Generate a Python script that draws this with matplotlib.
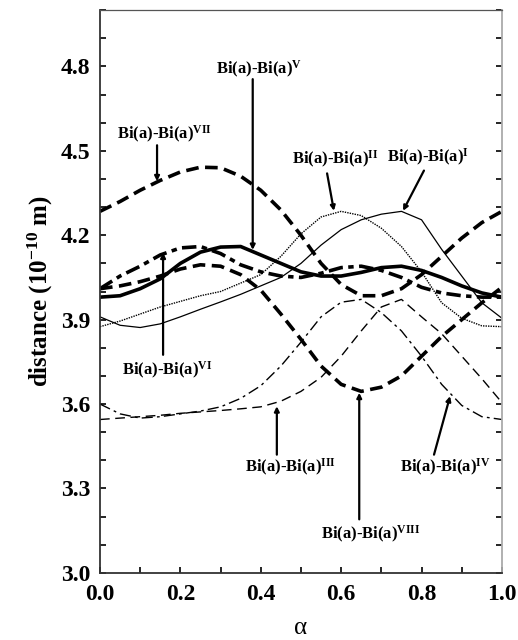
import matplotlib
matplotlib.use("Agg")
import matplotlib.pyplot as plt
import matplotlib.ticker as mticker
import numpy as np

plt.rcParams.update({
    "font.family": "serif",
    "font.serif": ["Liberation Serif", "DejaVu Serif"],
    "mathtext.fontset": "custom",
    "mathtext.rm": "Liberation Serif",
    "mathtext.bf": "Liberation Serif:bold",
    "mathtext.it": "Liberation Serif:italic",
})

# --- Data: Bi(a)-Bi(a) distances (10^-10 m) against alpha ---
alpha = np.round(np.arange(0, 1.0001, 0.05), 2)

d_I = [3.91, 3.88, 3.872, 3.885, 3.91, 3.937, 3.963, 3.99, 4.02, 4.05, 4.10,
       4.165, 4.22, 4.255, 4.275, 4.285, 4.255, 4.15, 4.055, 3.96, 3.905]
d_II = [3.875, 3.895, 3.92, 3.945, 3.965, 3.985, 4.0, 4.03, 4.06, 4.125, 4.205,
        4.265, 4.285, 4.27, 4.225, 4.16, 4.07, 3.96, 3.905, 3.878, 3.875]
d_III = [3.545, 3.55, 3.555, 3.56, 3.567, 3.572, 3.577, 3.583, 3.59, 3.61, 3.645,
         3.695, 3.77, 3.86, 3.945, 3.972, 3.91, 3.85, 3.77, 3.69, 3.605]
d_IV = [3.60, 3.565, 3.55, 3.555, 3.565, 3.575, 3.59, 3.62, 3.665, 3.735, 3.82,
        3.91, 3.962, 3.972, 3.925, 3.86, 3.77, 3.67, 3.595, 3.555, 3.545]
d_V = [3.98, 3.985, 4.01, 4.045, 4.10, 4.14, 4.158, 4.16, 4.13, 4.10, 4.07,
       4.055, 4.055, 4.068, 4.085, 4.09, 4.075, 4.05, 4.02, 3.995, 3.98]
d_VI = [4.01, 4.055, 4.09, 4.13, 4.155, 4.16, 4.135, 4.095, 4.07, 4.055, 4.05,
        4.065, 4.085, 4.09, 4.075, 4.05, 4.015, 3.995, 3.985, 3.98, 3.98]
d_VII = [4.285, 4.32, 4.36, 4.395, 4.425, 4.442, 4.44, 4.41, 4.36, 4.29, 4.20,
         4.10, 4.025, 3.985, 3.985, 4.01, 4.06, 4.125, 4.19, 4.245, 4.285]
d_VIII = [4.01, 4.02, 4.035, 4.055, 4.08, 4.095, 4.09, 4.06, 4.005, 3.92, 3.83,
          3.735, 3.67, 3.645, 3.66, 3.70, 3.77, 3.84, 3.90, 3.96, 4.015]

# --- Figure ---
fig = plt.figure(figsize=(5.18, 6.40), dpi=100)
ax = fig.add_axes([0.193, 0.105, 0.776, 0.879])

kw = dict(color="black", solid_joinstyle="round", dash_joinstyle="round")
ax.plot(alpha, d_I, lw=0.9, ls="-", **kw)
ax.plot(alpha, d_II, lw=1.0, ls=(0, (1, 0.8)), **kw)
ax.plot(alpha, d_III, lw=1.0, ls=(0, (7, 4)), **kw)
ax.plot(alpha, d_IV, lw=1.0, ls=(0, (8, 3, 2, 3)), **kw)
ax.plot(alpha, d_V, lw=2.6, ls="-", **kw)
ax.plot(alpha, d_VI, lw=2.6, ls=(0, (4, 1.5, 1.5, 1.5)), **kw)
ax.plot(alpha, d_VII, lw=2.6, ls=(0, (3.5, 1.8)), **kw)
ax.plot(alpha, d_VIII, lw=2.6, ls=(0, (3.5, 1.8)), **kw)

# labels with arrows: (text, text x, text y, arrow start, arrow tip)
labels = [
    ("V", 0.395, 4.79, (0.38, 4.755), (0.38, 4.148)),
    ("VII", 0.16, 4.56, (0.142, 4.52), (0.142, 4.392)),
    ("II", 0.585, 4.47, (0.565, 4.42), (0.582, 4.287)),
    ("I", 0.815, 4.478, (0.806, 4.43), (0.754, 4.287)),
    ("VI", 0.167, 3.72, (0.157, 3.775), (0.157, 4.138)),
    ("III", 0.473, 3.374, (0.44, 3.42), (0.44, 3.592)),
    ("VIII", 0.674, 3.135, (0.645, 3.19), (0.645, 3.640)),
    ("IV", 0.86, 3.374, (0.831, 3.42), (0.871, 3.628)),
]
for sup, tx, ty, start, tip in labels:
    ax.text(tx, ty, r"Bi(a)-Bi(a)$^{\mathbf{%s}}$" % sup, ha="center", va="center",
            fontsize=12, fontweight="bold")
    ax.annotate("", xy=tip, xytext=start,
                arrowprops=dict(arrowstyle="-|>", color="black", lw=1.6,
                                mutation_scale=7, shrinkA=0, shrinkB=0))

# --- Axes styling ---
ax.set_xlim(0, 1.0)
ax.set_ylim(3.0, 5.0)
ax.xaxis.set_major_locator(mticker.MultipleLocator(0.2))
ax.xaxis.set_minor_locator(mticker.MultipleLocator(0.1))
ax.yaxis.set_major_locator(mticker.FixedLocator([3.0, 3.3, 3.6, 3.9, 4.2, 4.5, 4.8]))
ax.yaxis.set_minor_locator(mticker.MultipleLocator(0.1))
ax.xaxis.set_major_formatter(mticker.FormatStrFormatter("%.1f"))
ax.yaxis.set_major_formatter(mticker.FormatStrFormatter("%.1f"))

ax.tick_params(axis="both", which="both", direction="in", width=1.2, length=4, labelsize=17)
ax.tick_params(axis="y", which="both", right=True)
for lbl in ax.get_xticklabels() + ax.get_yticklabels():
    lbl.set_fontweight("bold")
ax.tick_params(axis="x", pad=8)
ax.tick_params(axis="y", pad=7)

for side in ["left", "bottom"]:
    ax.spines[side].set_linewidth(1.3)
    ax.spines[side].set_color("#333333")
ax.spines["top"].set_linewidth(0.9)
ax.spines["top"].set_color("#555555")
ax.spines["right"].set_linewidth(1.3)
ax.spines["right"].set_color("#aaaaaa")

ax.set_ylabel(r"distance (10$^{\mathbf{-10}}$ m)", fontsize=18, fontweight="bold", labelpad=4)
ax.set_xlabel("α", fontsize=18, labelpad=9)

fig.savefig("out.png", dpi=100, facecolor="white")
